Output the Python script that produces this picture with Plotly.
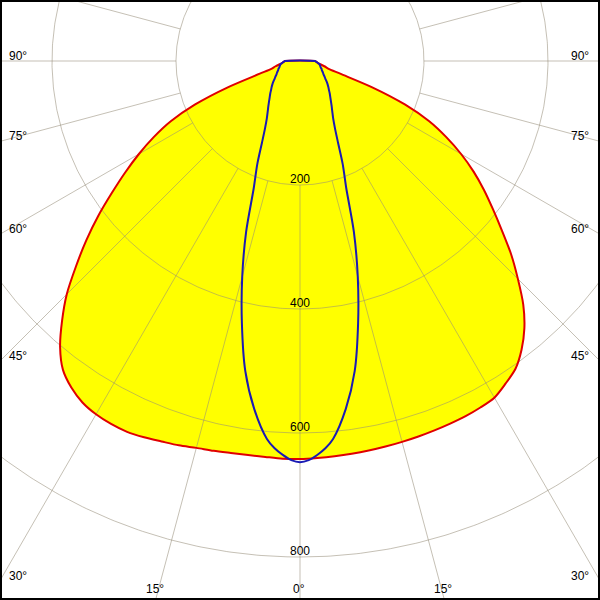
import numpy as np
import plotly.graph_objects as go

# Gamma angles (degrees from nadir)
gamma = [0, 2.5, 5, 7.5, 10, 12.5, 15, 17.5, 20, 22.5, 25, 27.5, 30, 32.5, 35, 37.5,
         40, 42.5, 45, 47.5, 50, 52.5, 55, 57.5, 60, 62.5, 65, 67.5, 70, 72.5, 75,
         77.5, 80, 82.5, 85, 87.5, 90]

# C180 half-plane (left side of the red curve), cd/klm
red_c180 = [642, 642, 641, 641, 642, 644, 646, 650, 653, 657, 660, 660, 658, 653, 643, 628,
            602, 568, 532, 490, 450, 410, 370, 334, 300, 266, 230, 183, 124, 68, 47,
            41, 35, 30, 28, 26, 24]
# C0 half-plane (right side of the red curve)
red_c0 = [642, 641, 640, 639, 638, 637, 636, 635, 634, 633, 632, 630, 627, 617, 606, 587,
          563, 533, 497, 462, 425, 392, 362, 332, 300, 266, 230, 183, 124, 68, 47,
          41, 35, 30, 28, 26, 24]

# C90 / C270 plane (blue curve, symmetric), finer near nadir
gamma_blue = [0, 1.25, 2.5, 3.75, 5, 7.5, 10, 12.5, 15, 17.5, 20, 22.5, 25, 27.5, 30, 32.5,
              35, 37.5, 40, 42.5, 45, 47.5, 50, 52.5, 55, 57.5, 60, 62.5, 65, 67.5, 70,
              72.5, 75, 77.5, 80, 82.5, 85, 87.5, 90]
blue_c90 = [647, 644, 636, 626, 612, 566, 508, 433, 360, 289, 218, 180, 145, 122, 107, 97,
            89, 82, 76, 71, 66, 62, 58, 54, 50, 47, 44, 42, 40, 38, 37,
            35, 34, 33, 32, 30, 28, 26, 24]

grid_radii = [200, 400, 600, 800, 1000]
radial_labels = ["200", "400", "600", "800"]
angle_lines = list(range(-180, 181, 15))
side_labels = [30, 45, 60, 75, 90]
bottom_labels = [-15, 0, 15]

PX = 0.62  # pixels per cd unit
XR = 300 / PX
YTOP = 61 / PX
YBOT = -539 / PX


def curve(g, left, right):
    g = np.array(g, dtype=float)
    lt = np.radians(g[::-1])
    lr = np.array(left, dtype=float)[::-1]
    rt = np.radians(g[1:])
    rr = np.array(right, dtype=float)[1:]
    x = np.concatenate([-lr * np.sin(lt), rr * np.sin(rt)])
    y = np.concatenate([-lr * np.cos(lt), -rr * np.cos(rt)])
    return np.append(x, x[0]), np.append(y, y[0])


fig = go.Figure()

rx, ry = curve(gamma, red_c180, red_c0)
bx, by = curve(gamma_blue, blue_c90, blue_c90)

# yellow fill
fig.add_trace(go.Scatter(x=rx, y=ry, mode="lines", fill="toself", fillcolor="#ffff00",
                         line=dict(width=0, color="rgba(0,0,0,0)", shape="spline", smoothing=0.8),
                         hoverinfo="skip"))

# grid circles and radial lines
t = np.linspace(0, 2 * np.pi, 721)
gx, gy = [], []
for r in grid_radii:
    gx += list(r * np.sin(t)) + [None]
    gy += list(-r * np.cos(t)) + [None]
for a in angle_lines:
    ar = np.radians(a)
    gx += [200 * np.sin(ar), 2000 * np.sin(ar), None]
    gy += [-200 * np.cos(ar), -2000 * np.cos(ar), None]
fig.add_trace(go.Scatter(x=gx, y=gy, mode="lines",
                         line=dict(color="rgba(150,140,120,0.55)", width=1),
                         hoverinfo="skip"))

# outlines
fig.add_trace(go.Scatter(x=rx, y=ry, mode="lines",
                         line=dict(color="#e00000", width=2, shape="spline", smoothing=0.8),
                         hoverinfo="skip"))
fig.add_trace(go.Scatter(x=bx, y=by, mode="lines",
                         line=dict(color="#1a1ab4", width=2, shape="spline", smoothing=0.8),
                         hoverinfo="skip"))

font = dict(family="Liberation Sans, Arial, sans-serif", size=12, color="black")
ann = []
for lab, r in zip(radial_labels, grid_radii):
    ann.append(dict(x=0, y=-r, text=lab, showarrow=False, xanchor="center",
                    yanchor="bottom", yshift=-3, font=font))
for a in side_labels:
    yl = -XR / np.tan(np.radians(a))
    ann.append(dict(x=-XR, y=yl, text=f"{a}°", showarrow=False, xanchor="left",
                    yanchor="bottom", xshift=7, yshift=-4, font=font))
    ann.append(dict(x=XR, y=yl, text=f"{a}°", showarrow=False, xanchor="right",
                    yanchor="bottom", xshift=-9, yshift=-4, font=font))
for a in bottom_labels:
    xl = -YBOT * np.tan(np.radians(a))
    ann.append(dict(x=xl, y=YBOT, text=f"{abs(a)}°", showarrow=False, xanchor="center",
                    yanchor="bottom", xshift=-1, yshift=2, font=font))

fig.update_layout(
    width=600, height=600,
    margin=dict(l=0, r=0, t=0, b=0),
    paper_bgcolor="white", plot_bgcolor="white",
    showlegend=False,
    xaxis=dict(range=[-XR, XR], visible=False, fixedrange=True),
    yaxis=dict(range=[YBOT, YTOP], visible=False, fixedrange=True),
    annotations=ann,
    shapes=[dict(type="rect", xref="paper", yref="paper", x0=0, y0=0, x1=1, y1=1,
                 line=dict(color="black", width=4), layer="above")],
)

fig.write_html("out.html", config={"displayModeBar": False},
               post_script="document.body.style.margin='0';")
